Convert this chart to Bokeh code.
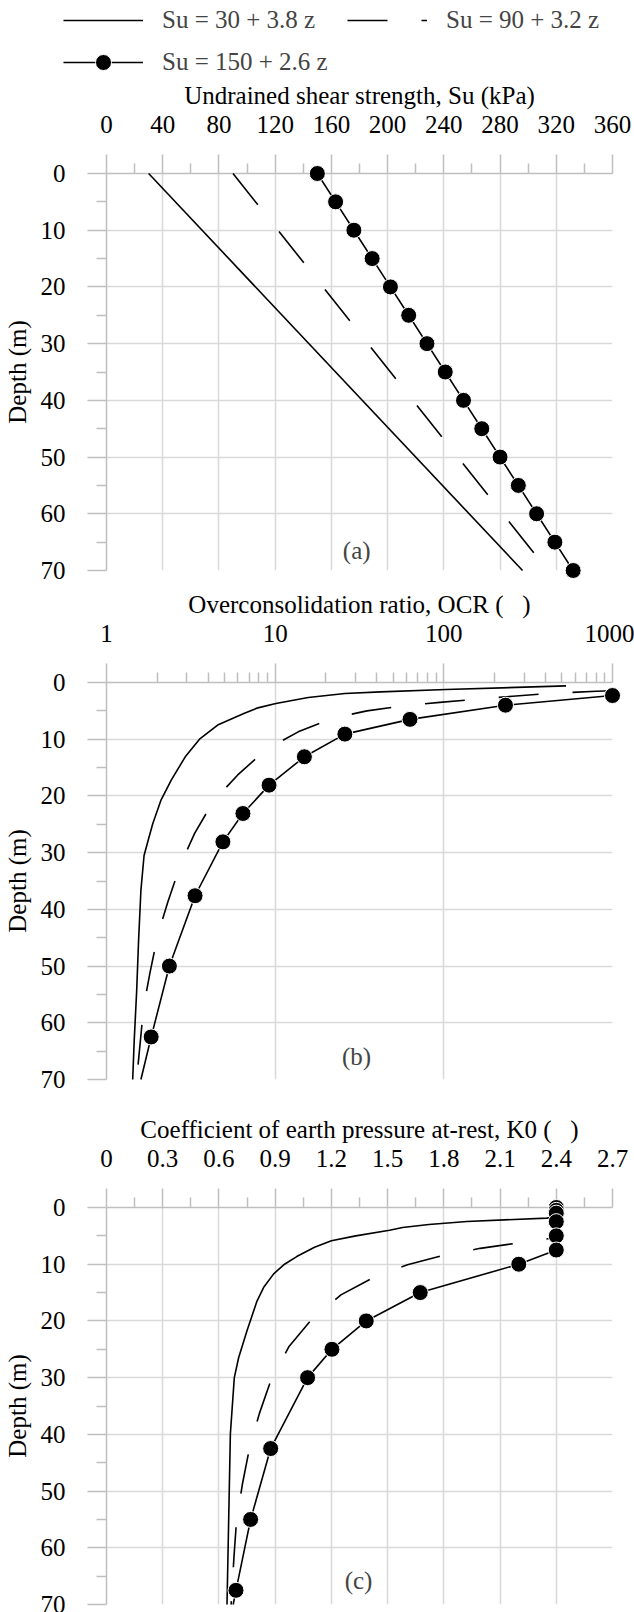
from bokeh.plotting import figure
from bokeh.layouts import column
from bokeh.models import (Range1d, FixedTicker, CustomJSTickFormatter, Legend,
                          LegendItem, Label)
from bokeh.embed import file_html
from bokeh.resources import INLINE

FONT = "Liberation Serif"
FS = "25px"
GRID = "#d9d9d9"
AXC = "#bfbfbf"
DASH = "40 34"
NB = "\u00a0"

# ---------------- data ----------------
# (a) undrained shear strength
depth_line_a = [0, 70]
su_solid = [30, 296]
su_dashed = [90, 314]
depth_mark_a = [0, 5, 10, 15, 20, 25, 30, 35, 40, 45, 50, 55, 60, 65, 70]
su_mark = [150, 163, 176, 189, 202, 215, 228, 241, 254, 267, 280, 293, 306, 319, 332]

# (b) OCR
depth_solid_b = [0.6, 1.24, 1.66, 1.94, 2.65, 3.7, 4.47, 5.47, 7.5, 10.0, 13.1, 17.2,
                 20.8, 24.9, 28.0, 30.5, 36.6, 45.4, 54.3, 63.1, 70]
ocr_solid = [530, 103, 42.2, 25.9, 15.7, 10.1, 7.9, 6.52, 4.56, 3.56, 2.93, 2.42,
             2.10, 1.88, 1.76, 1.67, 1.60, 1.55, 1.51, 1.46, 1.43]
depth_dashed_b = [1.45, 1.53, 1.94, 2.42, 2.94, 3.5, 4.1, 5.0, 6.3, 8.7, 11.8, 16.3,
                  20.9, 26.6, 32.2, 38.7, 44.6, 51.2, 57.2, 70]
ocr_dashed = [1000, 804, 424, 256, 158, 94.6, 58.5, 35, 22, 13.7, 8.83, 6.0,
              4.31, 3.33, 2.74, 2.31, 2.01, 1.81, 1.66, 1.51]
depth_mark_b = [2.3, 4.0, 6.5, 9.1, 13.1, 18.1, 23.1, 28.1, 37.6, 50.0, 62.5]
ocr_mark = [1000, 232, 63, 25.9, 14.9, 9.2, 6.44, 4.9, 3.35, 2.36, 1.84]
depth_markline_b = depth_mark_b + [70]
ocr_markline = ocr_mark + [1.60]

# (c) K0
depth_solid_c = [0, 1.7, 1.87, 2.47, 3.0, 3.53, 4.0, 5.0, 5.87, 7.0, 8.65, 10.0, 11.7,
                 14.0, 16.5, 21.7, 26.5, 30.0, 39.9, 70]
k0_solid = [2.4, 2.4, 2.349, 1.923, 1.72, 1.58, 1.51, 1.33, 1.20, 1.11, 1.015, 0.95,
            0.892, 0.84, 0.803, 0.750, 0.705, 0.682, 0.661, 0.643]
depth_dashed_c = [0, 5.3, 6.35, 7.2, 8.5, 10.1, 12.5, 15.4, 19.7, 24.5, 30.6, 36.3,
                  42.6, 48.8, 55.6, 61.7, 70]
k0_dashed = [2.4, 2.4, 2.177, 1.994, 1.789, 1.606, 1.416, 1.251, 1.096, 0.974, 0.876,
             0.816, 0.762, 0.725, 0.693, 0.680, 0.665]
depth_mark_c = [0, 0.5, 1.0, 2.5, 5, 7.5, 10, 15, 20, 25, 30, 42.5, 55, 67.5]
k0_mark = [2.4, 2.4, 2.4, 2.4, 2.4, 2.4, 2.2, 1.674, 1.386, 1.203, 1.073, 0.876,
           0.769, 0.691]
depth_markline_c = depth_mark_c + [70]
k0_markline = k0_mark + [0.676]

# ticks
depth_ticks = [0, 10, 20, 30, 40, 50, 60, 70]
depth_minor = [5, 15, 25, 35, 45, 55, 65]
su_ticks = [0, 40, 80, 120, 160, 200, 240, 280, 320, 360]
su_minor = [20, 60, 100, 140, 180, 220, 260, 300, 340]
ocr_ticks = [1, 10, 100, 1000]
ocr_minor = [2, 3, 4, 5, 6, 7, 8, 9, 20, 30, 40, 50, 60, 70, 80, 90,
             200, 300, 400, 500, 600, 700, 800, 900]
k0_ticks = [0, 0.3, 0.6, 0.9, 1.2, 1.5, 1.8, 2.1, 2.4, 2.7]
k0_minor = [0.15, 0.45, 0.75, 1.05, 1.35, 1.65, 1.95, 2.25, 2.55]

titles = ["Undrained shear strength, Su (kPa)",
          "Overconsolidation ratio, OCR (" + NB * 3 + ")",
          "Coefficient of earth pressure at-rest, K0 (" + NB * 3 + ")"]
series_names = ["Su = 30 + 3.8 z", "Su = 90 + 3.2 z", "Su = 150 + 2.6 z"]

W = 634


def make_fig(height, top, bottom, x_range, xticks, xminor, title, log=False):
    kw = dict(x_axis_type="log") if log else {}
    p = figure(width=W, height=height, x_range=x_range, y_range=Range1d(70, 0),
               x_axis_location="above", toolbar_location=None, output_backend="svg",
               min_border_left=106, min_border_right=22, min_border_top=top,
               min_border_bottom=bottom, **kw)
    p.outline_line_color = None
    p.background_fill_color = "white"
    p.border_fill_color = "white"
    xa = p.xaxis[0]
    ya = p.yaxis[0]
    xa.ticker = FixedTicker(ticks=xticks, minor_ticks=xminor)
    ya.ticker = FixedTicker(ticks=depth_ticks, minor_ticks=depth_minor)
    xa.formatter = CustomJSTickFormatter(code="return String(tick)")
    ya.formatter = CustomJSTickFormatter(code="return String(tick)")
    xa.axis_label = title
    ya.axis_label = "Depth (m)"
    for ax in (xa, ya):
        ax.axis_label_text_font = FONT
        ax.axis_label_text_font_size = FS
        ax.axis_label_text_font_style = "normal"
        ax.axis_label_text_color = "black"
        ax.major_label_text_font = FONT
        ax.major_label_text_font_size = FS
        ax.major_label_text_color = "black"
        ax.axis_line_color = AXC
        ax.axis_line_width = 1.5
        ax.major_tick_line_color = AXC
        ax.minor_tick_line_color = AXC
        ax.major_tick_line_width = 1.5
        ax.minor_tick_line_width = 1.5
        ax.major_tick_in = 0
        ax.minor_tick_in = 0
        ax.major_tick_out = 19
        ax.minor_tick_out = 10
    xa.major_label_standoff = 22
    xa.axis_label_standoff = 4
    ya.major_label_standoff = 22
    ya.axis_label_standoff = 7
    p.xgrid.ticker = xa.ticker
    p.ygrid.ticker = ya.ticker
    for g in (p.xgrid, p.ygrid):
        g.grid_line_color = GRID
        g.grid_line_width = 1.5
    return p


def add_series(p, xs_solid, ys_solid, xs_dash, ys_dash, xs_ml, ys_ml, xs_m, ys_m,
               level="overlay"):
    r1 = p.line(xs_solid, ys_solid, line_color="black", line_width=1.6, level=level)
    r2 = p.line(xs_dash, ys_dash, line_color="black", line_width=1.6, line_dash=DASH,
                level=level)
    r3 = p.line(xs_ml, ys_ml, line_color="black", line_width=1.6, level=level)
    r4 = p.scatter(xs_m, ys_m, marker="circle", size=16, fill_color="black",
                   line_color="white", line_width=1, level=level)
    return r1, r2, r3, r4


def panel_label(p, x, y, text):
    p.add_layout(Label(x=x, y=y, text=text, text_font=FONT, text_font_size=FS,
                       text_align="center", text_baseline="middle"))


# legend strip (its glyphs use panel (a) data, which lies outside this strip's ranges)
pl = figure(width=W, height=78, x_range=Range1d(-2, -1), y_range=Range1d(-2, -1),
            x_axis_location=None, y_axis_location=None, toolbar_location=None,
            output_backend="svg", min_border_left=0, min_border_right=0,
            min_border_top=0, min_border_bottom=0)
if "frame_align" in pl.properties():
    pl.frame_align = False   # keep this strip's frame full width (not aligned)
pl.outline_line_color = None
for g in pl.grid:
    g.visible = False
l1, l2, l3, l4 = add_series(pl, su_solid, depth_line_a, su_dashed, depth_line_a,
                            su_mark, depth_mark_a, su_mark, depth_mark_a, level="glyph")
legend = Legend(items=[LegendItem(label=series_names[0], renderers=[l1]),
                       LegendItem(label=series_names[2], renderers=[l3, l4]),
                       LegendItem(label=series_names[1], renderers=[l2])],
                nrows=2, location=(63, -4), padding=0, spacing=2, margin=0,
                glyph_width=80, glyph_height=40, label_standoff=19, label_width=183,
                border_line_color=None, background_fill_alpha=0,
                label_text_font=FONT, label_text_font_size=FS)
pl.add_layout(legend)

# (a)
pa = make_fig(506, 95, 14, Range1d(0, 360), su_ticks, su_minor, titles[0])
add_series(pa, su_solid, depth_line_a, su_dashed, depth_line_a,
           su_mark, depth_mark_a, su_mark, depth_mark_a)
panel_label(pa, 178, 66.5, "(a)")

# (b)
pb = make_fig(515, 98, 20, Range1d(1, 1000), ocr_ticks, ocr_minor, titles[1], log=True)
add_series(pb, ocr_solid, depth_solid_b, ocr_dashed, depth_dashed_b,
           ocr_markline, depth_markline_b, ocr_mark, depth_mark_b)
panel_label(pb, 30.4, 66, "(b)")

# (c)
pc = make_fig(513, 108, 8, Range1d(0, 2.7), k0_ticks, k0_minor, titles[2])
add_series(pc, k0_solid, depth_solid_c, k0_dashed, depth_dashed_c,
           k0_markline, depth_markline_c, k0_mark, depth_mark_c)
panel_label(pc, 1.345, 65.8, "(c)")

layout = column(pl, pa, pb, pc, spacing=0)
open("out.html", "w").write(file_html(layout, INLINE))
